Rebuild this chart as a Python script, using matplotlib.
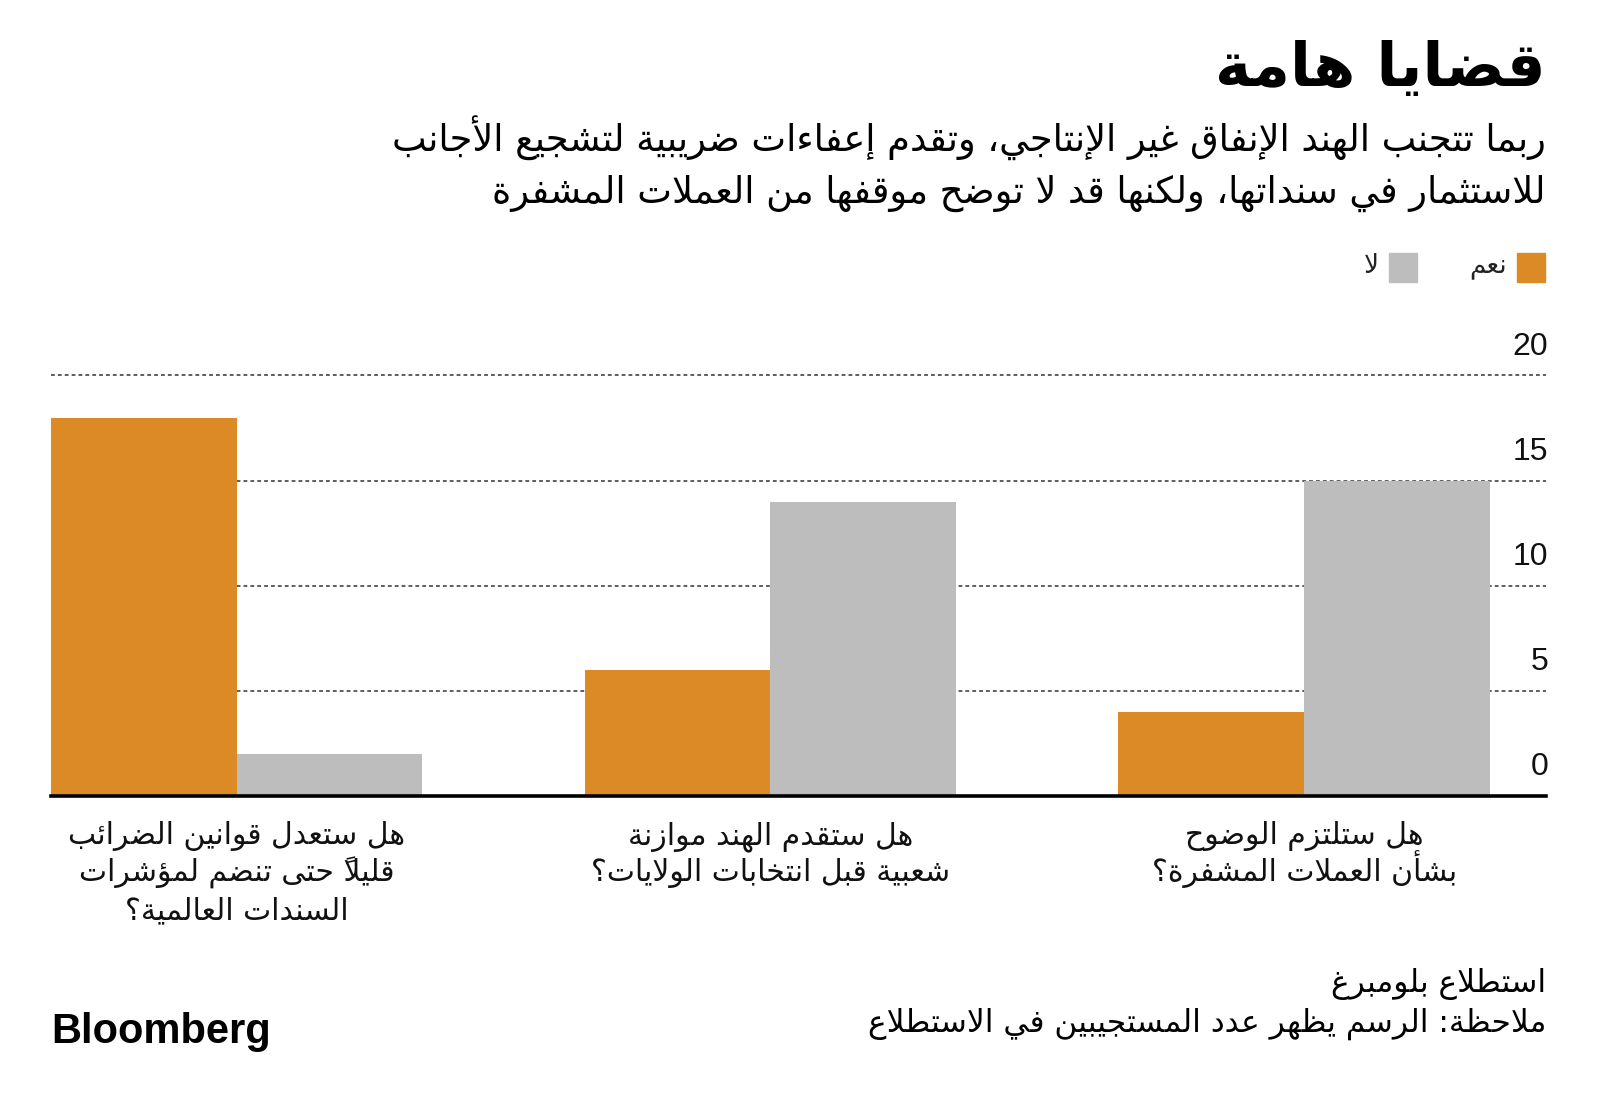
import matplotlib
matplotlib.use('agg')
import matplotlib.pyplot as plt
import numpy as np

# DATA ###############################################################

# categories in reading order (right to left on the chart)
categories = [
    'هل ستلتزم الوضوح\nبشأن العملات المشفرة؟',
    'هل ستقدم الهند موازنة\nشعبية قبل انتخابات الولايات؟',
    'هل ستعدل قوانين الضرائب\nقليلاً حتى تنضم لمؤشرات\nالسندات العالمية؟',
]
yes_votes = [4, 6, 18]
no_votes = [15, 14, 2]
series_names = ['نعم', 'لا']
y_ticks = [0, 5, 10, 15, 20]

title = 'قضايا هامة'
subtitle = ['ربما تتجنب الهند الإنفاق غير الإنتاجي، وتقدم إعفاءات ضريبية لتشجيع الأجانب',
            'للاستثمار في سنداتها، ولكنها قد لا توضح موقفها من العملات المشفرة']
source = 'استطلاع بلومبرغ'
note = 'ملاحظة: الرسم يظهر عدد المستجيبين في الاستطلاع'

ORANGE = '#DC8A26'
GREY = '#BDBDBD'

# ARABIC SHAPING #####################################################
# matplotlib draws glyphs one by one, so pick the joined forms by hand
# forms: (isolated, final, initial, medial); two entries = joins on the right only

FORMS = {
    'ء': 'ﺀ', 'آ': 'ﺁﺂ', 'أ': 'ﺃﺄ', 'ؤ': 'ﺅﺆ', 'إ': 'ﺇﺈ', 'ئ': 'ﺉﺊﺋﺌ',
    'ا': 'ﺍﺎ', 'ب': 'ﺏﺐﺑﺒ', 'ة': 'ﺓﺔ', 'ت': 'ﺕﺖﺗﺘ', 'ث': 'ﺙﺚﺛﺜ',
    'ج': 'ﺝﺞﺟﺠ', 'ح': 'ﺡﺢﺣﺤ', 'خ': 'ﺥﺦﺧﺨ', 'د': 'ﺩﺪ', 'ذ': 'ﺫﺬ',
    'ر': 'ﺭﺮ', 'ز': 'ﺯﺰ', 'س': 'ﺱﺲﺳﺴ', 'ش': 'ﺵﺶﺷﺸ', 'ص': 'ﺹﺺﺻﺼ',
    'ض': 'ﺽﺾﺿﻀ', 'ط': 'ﻁﻂﻃﻄ', 'ظ': 'ﻅﻆﻇﻈ', 'ع': 'ﻉﻊﻋﻌ', 'غ': 'ﻍﻎﻏﻐ',
    'ف': 'ﻑﻒﻓﻔ', 'ق': 'ﻕﻖﻗﻘ', 'ك': 'ﻙﻚﻛﻜ', 'ل': 'ﻝﻞﻟﻠ', 'م': 'ﻡﻢﻣﻤ',
    'ن': 'ﻥﻦﻧﻨ', 'ه': 'ﻩﻪﻫﻬ', 'و': 'ﻭﻮ', 'ى': 'ﻯﻰﯨﯩ', 'ي': 'ﻱﻲﻳﻴ',
}
LAM_ALEF = {'آ': 'ﻵﻶ', 'أ': 'ﻷﻸ', 'إ': 'ﻹﻺ', 'ا': 'ﻻﻼ'}


def is_mark(ch):
    return '\u064B' <= ch <= '\u0652'


def shape_line(line):
    # units: [forms, marks]
    units = []
    i = 0
    while i < len(line):
        ch = line[i]
        if is_mark(ch) and units:
            units[-1][1] += ch
        elif ch == 'ل' and i + 1 < len(line) and line[i + 1] in LAM_ALEF:
            units.append([LAM_ALEF[line[i + 1]], ''])
            i += 1
        else:
            units.append([FORMS.get(ch, ch), ''])
        i += 1

    def joins(u):
        return u[0] in FORMS.values() or u[0] in LAM_ALEF.values()

    out = []
    for k, (f, marks) in enumerate(units):
        if not joins(units[k]):
            out.append(marks + f)
            continue
        prev_ok = k > 0 and joins(units[k - 1]) and len(units[k - 1][0]) == 4
        next_ok = len(f) == 4 and k + 1 < len(units) and joins(units[k + 1])
        if prev_ok and next_ok:
            g = f[3]
        elif prev_ok:
            g = f[1]
        elif next_ok:
            g = f[2]
        else:
            g = f[0]
        # mark goes before its letter in visual order
        out.append(marks + g)
    return ''.join(reversed(out))


def ar(text):
    return '\n'.join(shape_line(l) for l in text.split('\n'))


# PLOT ###############################################################

W, H = 1600, 1110
fig = plt.figure(figsize=(W / 100, H / 100), dpi=100)
AR = 'DejaVu Sans'
NUM = 'Liberation Sans'


def fx(x):
    return x / W


def fy(y):
    return 1 - y / H


ax_left, ax_right, ax_top, ax_bottom = 51, 1546, 375.5, 796
ax = fig.add_axes([fx(ax_left), fy(ax_bottom), (ax_right - ax_left) / W, (ax_bottom - ax_top) / H])

w = 0.348
pos = 2 - np.arange(len(categories))
ax.bar(pos - w / 2, yes_votes, w, color=ORANGE, zorder=2)
ax.bar(pos + w / 2, no_votes, w, color=GREY, zorder=2)

ax.set_xlim(-w, 2.453)
ax.set_ylim(0, 20)
for t in y_ticks[1:]:
    ax.axhline(t, color='#333333', lw=1.1, ls=(0, (2.5, 2)), zorder=1, clip_on=False)
ax.axhline(0, color='black', lw=2.6, zorder=3, clip_on=False)
for s in ax.spines.values():
    s.set_visible(False)
ax.set_xticks([])
ax.set_yticks([])

for t in y_ticks:
    ax.annotate(str(t), xy=(1.0, t), xycoords=('axes fraction', 'data'),
                xytext=(1.5, 10), textcoords='offset points',
                ha='right', va='bottom', fontsize=23, family=NUM, color='#111111')

# category labels, one line at a time so the baselines stay evenly spaced
for p, c in zip(pos, categories):
    for k, line in enumerate(c.split('\n')):
        ax.annotate(ar(line), xy=(p, 0), xycoords='data',
                    xytext=(0, -(48 + 37.5 * k) * 0.72), textcoords='offset points',
                    ha='center', va='baseline', fontsize=21.5, family=AR, color='#111111')

# header
fig.text(fx(1546), fy(70), ar(title), ha='right', va='center', fontsize=44,
         family=AR, fontweight='bold', color='black')
fig.text(fx(1546), fy(138), ar(subtitle[0]), ha='right', va='center', fontsize=26.5,
         family=AR, color='black')
fig.text(fx(1546), fy(193), ar(subtitle[1]), ha='right', va='center', fontsize=26.5,
         family=AR, color='black')

# legend
for (x0, name, col) in [(1517, series_names[0], ORANGE), (1389, series_names[1], GREY)]:
    fig.patches.append(plt.Rectangle((fx(x0), fy(282)), 28 / W, 29 / H,
                                     transform=fig.transFigure, color=col))
    fig.text(fx(x0 - 10), fy(266), ar(name), ha='right', va='center', fontsize=19,
             family=AR, color='#222222')

# footer
fig.text(fx(1546), fy(984), ar(source), ha='right', va='center', fontsize=22.5,
         family=AR, color='black')
fig.text(fx(1546), fy(1024), ar(note), ha='right', va='center', fontsize=22.5,
         family=AR, color='black')
fig.text(fx(51), fy(1032), 'Bloomberg', ha='left', va='center', fontsize=30,
         family=NUM, fontweight='bold', color='black')

fig.savefig('out.png', dpi=100, facecolor='white')
